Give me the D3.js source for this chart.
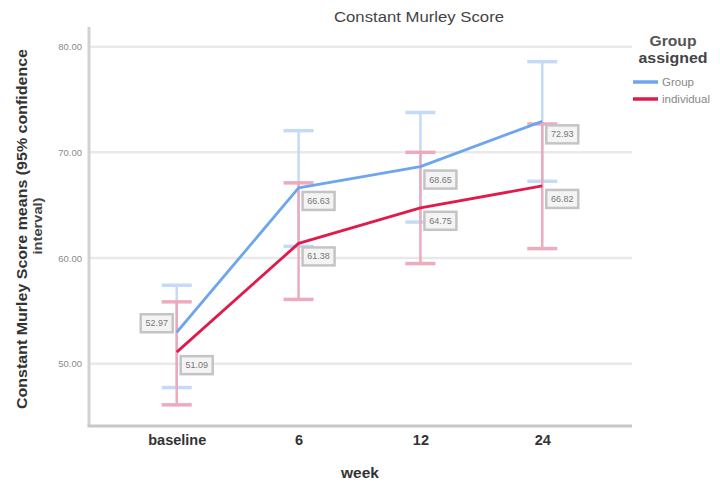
<!DOCTYPE html>
<html>
<head>
<meta charset="utf-8">
<script src="https://cdn.jsdelivr.net/npm/d3@7"></script>
<style>
  html, body { margin: 0; padding: 0; background: #fff; }
  svg { display: block; font-family: "Liberation Sans", Arial, sans-serif; }
</style>
</head>
<body>
<svg id="chart" width="720" height="485"></svg>
<script>
// Time points (x categories)
const weeks = ["baseline", "6", "12", "24"];
// Group series names
const groups = ["Group", "individual"];
// Mean Constant Murley Score per week
const groupMeans = [52.97, 66.63, 68.65, 72.93];
const individualMeans = [51.09, 61.38, 64.75, 66.82];
// 95% confidence interval bounds
const groupLower = [47.74, 61.10, 63.40, 67.26];
const groupUpper = [57.42, 72.05, 73.77, 78.58];
const individualLower = [46.10, 56.08, 59.47, 60.89];
const individualUpper = [55.85, 67.11, 70.00, 72.68];
// Y axis ticks
const yTicks = [50, 60, 70, 80];

const series = [
  { name: groups[0], mean: groupMeans, lo: groupLower, hi: groupUpper,
    color: "#6ea6ee", bar: "#c2d9f6", labelSide: [-1, 1, 1, 1] },
  { name: groups[1], mean: individualMeans, lo: individualLower, hi: individualUpper,
    color: "#e01b4c", bar: "#eea7ba", labelSide: [1, 1, 1, 1] }
];

const svg = d3.select("#chart");
const plotLeft = 89, plotRight = 630, plotTop = 27, plotBottom = 426;

const x = d3.scalePoint().domain(weeks).range([plotLeft, plotRight]).padding(0.72);
const y = d3.scaleLinear().domain([44.1, 81.86]).range([plotBottom, plotTop]);

// Horizontal gridlines
svg.append("g").selectAll("line").data(yTicks).join("line")
  .attr("x1", plotLeft).attr("x2", plotRight + 2)
  .attr("y1", d => y(d)).attr("y2", d => y(d))
  .attr("stroke", "#e9e9e9").attr("stroke-width", 2.5);

// Y axis (labels only, line drawn separately)
const yAxis = svg.append("g").attr("transform", `translate(${plotLeft - 5},0)`)
  .call(d3.axisLeft(y).tickValues(yTicks).tickFormat(d3.format(".2f")).tickSize(0).tickPadding(2));
yAxis.select(".domain").remove();
yAxis.selectAll("text").attr("fill", "#8a8a8a").attr("font-size", 9.5);

// X axis tick labels
const xAxis = svg.append("g").attr("transform", `translate(0,${plotBottom})`)
  .call(d3.axisBottom(x).tickSize(0).tickPadding(9));
xAxis.select(".domain").remove();
xAxis.selectAll("text").attr("fill", "#333").attr("font-size", 14.5).attr("font-weight", "bold");

// Axis lines
svg.append("line").attr("x1", plotLeft).attr("x2", plotLeft).attr("y1", plotTop).attr("y2", plotBottom)
  .attr("stroke", "#d2d2d2").attr("stroke-width", 3);
svg.append("line").attr("x1", plotLeft - 1.5).attr("x2", plotRight + 2).attr("y1", plotBottom).attr("y2", plotBottom)
  .attr("stroke", "#c8c8c8").attr("stroke-width", 3);

// Error bars
const capW = 15;
series.forEach(s => {
  const g = svg.append("g").attr("opacity", 0.95);
  weeks.forEach((w, i) => {
    const cx = x(w);
    g.append("line").attr("x1", cx).attr("x2", cx)
      .attr("y1", y(s.lo[i])).attr("y2", y(s.hi[i]))
      .attr("stroke", s.bar).attr("stroke-width", 2.5);
    [s.lo[i], s.hi[i]].forEach(v => {
      g.append("line").attr("x1", cx - capW).attr("x2", cx + capW)
        .attr("y1", y(v)).attr("y2", y(v))
        .attr("stroke", s.bar).attr("stroke-width", 3.5);
    });
  });
});

// Mean lines
const line = d3.line().x((d, i) => x(weeks[i])).y(d => y(d));
series.forEach(s => {
  svg.append("path").datum(s.mean).attr("d", line)
    .attr("fill", "none").attr("stroke", s.color).attr("stroke-width", 2.8)
    .attr("stroke-linejoin", "round");
});

// Value labels
const fmt = d3.format(".2f");
series.forEach(s => {
  s.mean.forEach((v, i) => {
    const cx = x(weeks[i]), cy = y(v);
    const bw = 32, bh = 18;
    const bx = s.labelSide[i] < 0 ? cx - 4 - bw : cx + 4;
    const by = s.labelSide[i] < 0 ? cy - bh : cy + 4;
    const g = svg.append("g");
    g.append("rect").attr("x", bx).attr("y", by).attr("width", bw).attr("height", bh)
      .attr("fill", "#f4f4f4").attr("stroke", "#c4c4c4").attr("stroke-width", 2.5);
    g.append("text").attr("x", bx + bw / 2).attr("y", by + bh / 2 + 3)
      .attr("text-anchor", "middle").attr("font-size", 9).attr("fill", "#777")
      .text(fmt(v));
  });
});

// Title
svg.append("text").attr("x", 419).attr("y", 22).attr("text-anchor", "middle")
  .attr("font-size", 15.5).attr("fill", "#444")
  .attr("textLength", 170).attr("lengthAdjust", "spacingAndGlyphs")
  .text("Constant Murley Score");

// Axis titles
svg.append("text").attr("transform", "translate(27,229) rotate(-90)")
  .attr("text-anchor", "middle").attr("font-size", 14.5).attr("font-weight", "bold").attr("fill", "#333")
  .attr("textLength", 360).attr("lengthAdjust", "spacingAndGlyphs")
  .text("Constant Murley Score means (95% confidence");
svg.append("text").attr("transform", "translate(42,226) rotate(-90)")
  .attr("text-anchor", "middle").attr("font-size", 12.5).attr("font-weight", "bold").attr("fill", "#444")
  .attr("textLength", 57).attr("lengthAdjust", "spacingAndGlyphs")
  .text("interval)");
svg.append("text").attr("x", 360).attr("y", 478).attr("text-anchor", "middle")
  .attr("font-size", 15.5).attr("font-weight", "bold").attr("fill", "#333").text("week");

// Legend
const lg = svg.append("g");
lg.append("text").attr("x", 673).attr("y", 46).attr("text-anchor", "middle")
  .attr("font-size", 14).attr("font-weight", "bold").attr("fill", "#555")
  .attr("textLength", 47).attr("lengthAdjust", "spacingAndGlyphs").text("Group");
lg.append("text").attr("x", 673).attr("y", 63).attr("text-anchor", "middle")
  .attr("font-size", 14).attr("font-weight", "bold").attr("fill", "#444")
  .attr("textLength", 69).attr("lengthAdjust", "spacingAndGlyphs").text("assigned");
series.forEach((s, i) => {
  const ly = 82 + i * 17;
  lg.append("line").attr("x1", 633).attr("x2", 658).attr("y1", ly).attr("y2", ly)
    .attr("stroke", s.color).attr("stroke-width", 3.5);
  lg.append("text").attr("x", 662).attr("y", ly + 4)
    .attr("font-size", 11.5).attr("fill", "#888").text(s.name);
});
</script>
</body>
</html>
